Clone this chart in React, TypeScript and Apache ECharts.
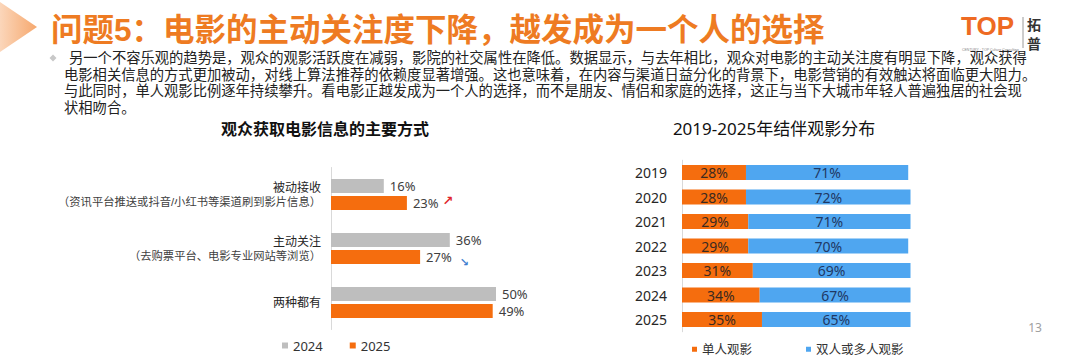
import React, { useEffect, useRef } from "react";
import * as echarts from "echarts";

// ---------- data ----------
const mainTitle = "问题5：电影的主动关注度下降，越发成为一个人的选择";
const bodyLines = [
  "另一个不容乐观的趋势是，观众的观影活跃度在减弱，影院的社交属性在降低。数据显示，与去年相比，观众对电影的主动关注度有明显下降，观众获得",
  "电影相关信息的方式更加被动，对线上算法推荐的依赖度显著增强。这也意味着，在内容与渠道日益分化的背景下，电影营销的有效触达将面临更大阻力。",
  "与此同时，单人观影比例逐年持续攀升。看电影正越发成为一个人的选择，而不是朋友、情侣和家庭的选择，这正与当下大城市年轻人普遍独居的社会现",
  "状相吻合。",
];

const leftTitle = "观众获取电影信息的主要方式";
const categories = ["被动接收", "主动关注", "两种都有"];
const subLabels = [
  "（资讯平台推送或抖音/小红书等渠道刷到影片信息）",
  "（去购票平台、电影专业网站等浏览）",
  "",
];
const seriesNamesLeft = ["2024", "2025"];
const values2024 = [16, 36, 50];
const values2025 = [23, 27, 49];
const trend2025 = ["up", "down", ""];

const rightTitle = "2019-2025年结伴观影分布";
const years = ["2019", "2020", "2021", "2022", "2023", "2024", "2025"];
const seriesNamesRight = ["单人观影", "双人或多人观影"];
const soloValues = [28, 28, 29, 29, 31, 34, 35];
const groupValues = [71, 72, 71, 70, 69, 67, 65];
const pageNumber = "13";

// ---------- style ----------
const FONT = '"Noto Sans", "Noto Sans CJK SC", sans-serif';
const TIGHT = '"Liberation Sans", "Noto Sans CJK SC", sans-serif';
const ORANGE = "#F56D0E";
const BLUE = "#4FA6F0";
const GRAY = "#BEBEBE";

function txt(x: number, y: number, text: string, s: any = {}) {
  const style: any = {
    text,
    fontSize: s.fontSize || 14,
    fontFamily: s.fontFamily || FONT,
    fontWeight: s.fontWeight || "normal",
    fill: s.fill || "#222",
    align: s.align || "left",
    verticalAlign: "middle",
    textAlign: s.align || "left",
    textVerticalAlign: "middle",
  };
  return { type: "text", x, y, silent: true, style };
}

export default function App() {
  const ref = useRef<HTMLDivElement>(null);

  useEffect(() => {
    if (!ref.current) return;
    const chart = echarts.init(ref.current, null, { renderer: "svg" });

    const graphics: any[] = [
      {
        type: "polygon",
        silent: true,
        shape: { points: [[0, 2], [37, 27], [0, 52]] },
        style: {
          fill: new echarts.graphic.LinearGradient(0, 0, 1, 0, [
            { offset: 0, color: "rgba(251,214,186,1)" },
            { offset: 1, color: "rgba(246,168,110,1)" },
          ]),
        },
      },
      txt(51, 30, mainTitle, { fontSize: 31.5, fontWeight: "bold", fill: "#EE7B22", fontFamily: TIGHT }),
      {
        type: "polygon",
        silent: true,
        shape: { points: [[53, 54.5], [56.5, 58], [53, 61.5], [49.5, 58]] },
        style: { fill: "#C8C8C8" },
      },
      ...bodyLines.map((l, i) =>
        txt(i === 0 ? 69 : 64, 58 + i * 16.5, l, { fontSize: 14.3, fill: "#222", fontFamily: TIGHT })
      ),
      // logo
      txt(961, 26, "TOP", { fontSize: 26, fontWeight: "bold", fill: "#EE6A22", fontFamily: '"Liberation Sans", sans-serif' }),
      txt(962, 50, "CENTURY · TOP Culture Consulting", { fontSize: 3.5, fill: "#888", fontFamily: '"Liberation Sans", sans-serif' }),
      {
        type: "line",
        silent: true,
        shape: { x1: 1023, y1: 17, x2: 1023, y2: 48 },
        style: { stroke: "#9A9A9A", lineWidth: 1 },
      },
      txt(1027, 24.5, "拓", { fontSize: 14, fontWeight: "bold", fill: "#333", fontFamily: TIGHT }),
      txt(1027, 43.5, "普", { fontSize: 14, fontWeight: "bold", fill: "#333", fontFamily: TIGHT }),
      // chart titles
      txt(325, 129, leftTitle, { fontSize: 16, fontWeight: "bold", fill: "#111", align: "center", fontFamily: TIGHT }),
      txt(774, 128, rightTitle, { fontSize: 17, fill: "#111", align: "center" }),
      txt(1035, 327, pageNumber, { fontSize: 12, fill: "#A0A0A0", align: "center" }),
    ];

    const option: any = {
      animation: false,
      backgroundColor: "#fff",
      textStyle: { fontFamily: FONT },
      graphic: graphics,
      legend: [
        {
          data: seriesNamesLeft,
          left: 282,
          top: 339,
          padding: 0,
          icon: "rect",
          itemWidth: 6,
          itemHeight: 6,
          itemGap: 27,
          textStyle: { fontSize: 13, color: "#333", fontFamily: FONT },
        },
        {
          data: seriesNamesRight,
          left: 692,
          top: 343,
          padding: 0,
          icon: "rect",
          itemWidth: 5,
          itemHeight: 5,
          itemGap: 54,
          textStyle: { fontSize: 12.5, color: "#333", fontFamily: FONT },
        },
      ],
      grid: [
        { left: 331, top: 167.5, width: 330, height: 162, containLabel: false },
        { left: 682, top: 160.25, width: 228.5, height: 171.5, containLabel: false },
      ],
      xAxis: [
        { gridIndex: 0, type: "value", min: 0, max: 100, show: false },
        { gridIndex: 1, type: "value", min: 0, max: 100, show: false },
      ],
      yAxis: [
        {
          gridIndex: 0,
          type: "category",
          data: categories,
          inverse: true,
          axisTick: { show: false },
          axisLine: { show: true, lineStyle: { color: "#D9D9D9" } },
          axisLabel: {
            margin: 10,
            formatter: (v: string, idx: number) =>
              subLabels[idx] ? `{a|${v}}\n{b|${subLabels[idx]}}` : `{a|${v}}`,
            rich: {
              a: { fontSize: 12, lineHeight: 14, color: "#262626", fontFamily: TIGHT, align: "right" },
              b: { fontSize: 11.3, lineHeight: 14, color: "#404040", fontFamily: TIGHT, align: "right" },
            },
          },
        },
        {
          gridIndex: 1,
          type: "category",
          data: years,
          inverse: true,
          axisTick: { show: false },
          axisLine: { show: true, lineStyle: { color: "#D9D9D9" } },
          axisLabel: { margin: 15, fontSize: 14, color: "#262626", fontFamily: FONT },
        },
      ],
      series: [
        {
          name: seriesNamesLeft[0],
          type: "bar",
          xAxisIndex: 0,
          yAxisIndex: 0,
          data: values2024,
          barWidth: 14,
          barGap: "21%",
          itemStyle: { color: GRAY },
          label: {
            show: true,
            position: "right",
            distance: 6,
            fontSize: 13,
            color: "#404040",
            fontFamily: FONT,
            formatter: "{c}%",
          },
        },
        {
          name: seriesNamesLeft[1],
          type: "bar",
          xAxisIndex: 0,
          yAxisIndex: 0,
          data: values2025,
          barWidth: 14,
          barGap: "21%",
          itemStyle: { color: ORANGE },
          label: {
            show: true,
            position: "right",
            distance: 6,
            formatter: (p: any) => {
              const t = trend2025[p.dataIndex];
              if (t === "up") return `{v|${p.value}%}{up|↗}`;
              if (t === "down") return `{v|${p.value}%}{down|↘}`;
              return `{v|${p.value}%}`;
            },
            rich: {
              v: { fontSize: 13, color: "#404040", fontFamily: FONT },
              up: { fontSize: 13, fontWeight: "bold", color: "#E0262B", padding: [0, 0, 4, 4], fontFamily: '"DejaVu Sans", sans-serif' },
              down: { fontSize: 11, fontWeight: "bold", color: "#3F7FD0", padding: [11, 0, 0, 8], fontFamily: '"DejaVu Sans", sans-serif' },
            },
          },
        },
        {
          name: seriesNamesRight[0],
          type: "bar",
          stack: "share",
          xAxisIndex: 1,
          yAxisIndex: 1,
          data: soloValues,
          barWidth: 15,
          itemStyle: { color: ORANGE },
          label: { show: true, position: "inside", fontSize: 14, color: "#3A2A20", fontFamily: FONT, formatter: "{c}%" },
        },
        {
          name: seriesNamesRight[1],
          type: "bar",
          stack: "share",
          xAxisIndex: 1,
          yAxisIndex: 1,
          data: groupValues,
          barWidth: 15,
          itemStyle: { color: BLUE },
          label: { show: true, position: "inside", fontSize: 14, color: "#1F3864", fontFamily: FONT, formatter: "{c}%" },
        },
      ],
    };

    chart.setOption(option);
    return () => chart.dispose();
  }, []);

  return (
    <div
      ref={ref}
      style={{ position: "fixed", left: 0, top: 0, width: 1080, height: 357, background: "#fff" }}
    />
  );
}
